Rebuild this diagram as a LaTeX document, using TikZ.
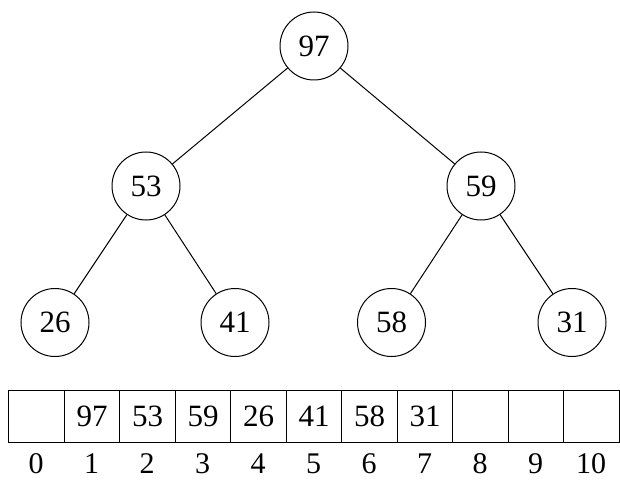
\documentclass[tikz,border=0pt]{standalone}
\usepackage{fontspec}
\setmainfont{Liberation Serif}
\begin{document}
\begin{tikzpicture}[x=1pt,y=-1pt,
  heapnode/.style={circle,draw,line width=1pt,minimum size=68pt,inner sep=0pt,font=\fontsize{31}{32}\selectfont},
  cellbox/.style={rectangle,draw,line width=1pt,minimum width=55.5pt,minimum height=52pt,inner sep=0pt,anchor=west,font=\fontsize{31}{32}\selectfont},
  idxlabel/.style={inner sep=0pt,font=\fontsize{30}{31}\selectfont},
  edge/.style={line width=1pt}]
\useasboundingbox (0,0) rectangle (620,481);
\node[heapnode] (n97) at (314,46) {97};
\node[heapnode] (n53) at (146,186) {53};
\node[heapnode] (n59) at (481,186) {59};
\node[heapnode] (n26) at (55,322.5) {26};
\node[heapnode] (n41) at (235,322.5) {41};
\node[heapnode] (n58) at (391.5,322.5) {58};
\node[heapnode] (n31) at (572,322.5) {31};
\draw[edge] (n97) -- (n53);
\draw[edge] (n97) -- (n59);
\draw[edge] (n53) -- (n26);
\draw[edge] (n53) -- (n41);
\draw[edge] (n59) -- (n58);
\draw[edge] (n59) -- (n31);
\foreach \i/\v in {0/,1/97,2/53,3/59,4/26,5/41,6/58,7/31,8/,9/,10/} {
  \node[cellbox] (c\i) at ({8.3+55.5*\i},416) {\v};
  \node[idxlabel] (l\i) at ({8.3+55.5*\i+27.75},464) {\i};
}
\end{tikzpicture}
\end{document}
